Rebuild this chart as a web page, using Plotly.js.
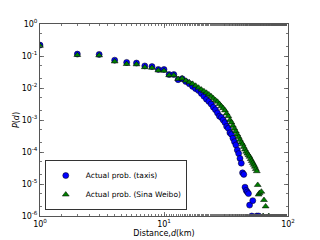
<!DOCTYPE html>
<html>
<head>
<meta charset="utf-8">
<script src="https://cdn.plot.ly/plotly-3.0.1.min.js"></script>
<style>html,body{margin:0;padding:0;background:#fff;}#chart{width:320px;height:240px;}</style>
</head>
<body>
<div id="chart"></div>
<script>
// Distance (km) and log10 probability
const taxiDist = [1,2,3,4,5,6,7,8,9,10,11,12,13,14,15,16,17,18,19,20,21,22,23,24,25,26,27,28,29,30,31,32,33,34,35,36,37,38,39,40,41,42,43,44,45,46,47,48,49,51,52,56,58];
const taxiLogP = [-0.66,-0.94,-0.95,-1.13,-1.20,-1.22,-1.31,-1.33,-1.42,-1.42,-1.58,-1.58,-1.74,-1.71,-1.80,-1.87,-1.95,-2.02,-2.08,-2.17,-2.26,-2.35,-2.42,-2.50,-2.60,-2.68,-2.78,-2.88,-2.92,-3.00,-3.08,-3.20,-3.26,-3.40,-3.45,-3.57,-3.68,-3.78,-3.94,-4.05,-4.20,-4.35,-4.65,-4.70,-5.10,-5.20,-5.25,-5.30,-5.66,-6.0,-5.52,-6.0,-6.0];
const weiboDist = [1,2,3,4,5,6,7,8,9,10,11,12,13,14,15,16,17,18,19,20,21,22,23,24,25,26,27,28,29,30,31,32,33,34,35,36,37,38,39,40,41,42,43,44,45,46,47,48,49,50,51,52,53,54,55,56,57,58,59,61,63,64,66,70];
const weiboLogP = [-0.68,-0.97,-0.98,-1.17,-1.25,-1.26,-1.35,-1.37,-1.45,-1.46,-1.60,-1.60,-1.72,-1.70,-1.77,-1.82,-1.87,-1.93,-1.99,-2.05,-2.10,-2.15,-2.20,-2.26,-2.32,-2.38,-2.43,-2.50,-2.57,-2.63,-2.70,-2.80,-2.88,-3.00,-3.08,-3.18,-3.27,-3.36,-3.45,-3.53,-3.62,-3.70,-3.76,-3.84,-3.92,-3.99,-4.05,-4.10,-4.15,-4.22,-4.28,-4.34,-4.40,-4.46,-4.53,-4.60,-5.03,-5.33,-5.28,-5.24,-6.0,-5.50,-5.70,-6.0];
const seriesNames = ['Actual prob. (taxis)', 'Actual prob. (Sina Weibo)'];
const xTickVals = [1, 10, 100];
const xTickText = ['10<sup>0</sup>', '10<sup>1</sup>', '10<sup>2</sup>'];
const yTickVals = [1e-6, 1e-5, 1e-4, 1e-3, 1e-2, 1e-1, 1];
const yTickText = ['10<sup>-6</sup>', '10<sup>-5</sup>', '10<sup>-4</sup>', '10<sup>-3</sup>', '10<sup>-2</sup>', '10<sup>-1</sup>', '10<sup>0</sup>'];

const toP = a => a.map(v => Math.pow(10, v));
const font = {family: 'DejaVu Sans', size: 8, color: '#000'};
const legFont = {family: 'DejaVu Sans', size: 7.5, color: '#000'};

const traces = [
  {x: taxiDist, y: toP(taxiLogP), name: seriesNames[0], type: 'scatter', mode: 'markers',
   marker: {symbol: 'circle', size: 6, color: '#0000ff', line: {color: '#000', width: 0.5}}},
  {x: weiboDist, y: toP(weiboLogP), name: seriesNames[1], type: 'scatter', mode: 'markers',
   marker: {symbol: 'triangle-up', size: 6, color: '#007f00', line: {color: '#000', width: 0.5}}}
];

const axisCommon = {
  type: 'log', showgrid: false, zeroline: false, showline: true, linecolor: '#555', linewidth: 1,
  mirror: 'allticks', ticks: 'inside', ticklen: 4, tickcolor: '#555', tickwidth: 0.8,
  tickfont: font,
  minor: {ticks: 'inside', ticklen: 2, tickcolor: '#555', showgrid: false}
};

const layout = {
  width: 320, height: 240,
  margin: {l: 40, r: 32, t: 24, b: 24},
  paper_bgcolor: '#fff', plot_bgcolor: '#fff',
  font: font,
  showlegend: true,
  legend: {x: 0.02, y: 0.03, xanchor: 'left', yanchor: 'bottom', bordercolor: '#000', borderwidth: 0.8,
           bgcolor: '#fff', font: legFont, tracegroupgap: 0, itemwidth: 30},
  xaxis: Object.assign({}, axisCommon, {range: [0, 2], tickvals: xTickVals, ticktext: xTickText,
    title: {text: 'Distance,<i>d</i>(km)', font: font, standoff: 2}}),
  yaxis: Object.assign({}, axisCommon, {range: [-6, 0], tickvals: yTickVals, ticktext: yTickText,
    title: {text: '<i>P</i>(<i>d</i>)', font: font, standoff: 0}})
};

Plotly.newPlot('chart', traces, layout, {staticPlot: true, displayModeBar: false});
</script>
</body>
</html>
